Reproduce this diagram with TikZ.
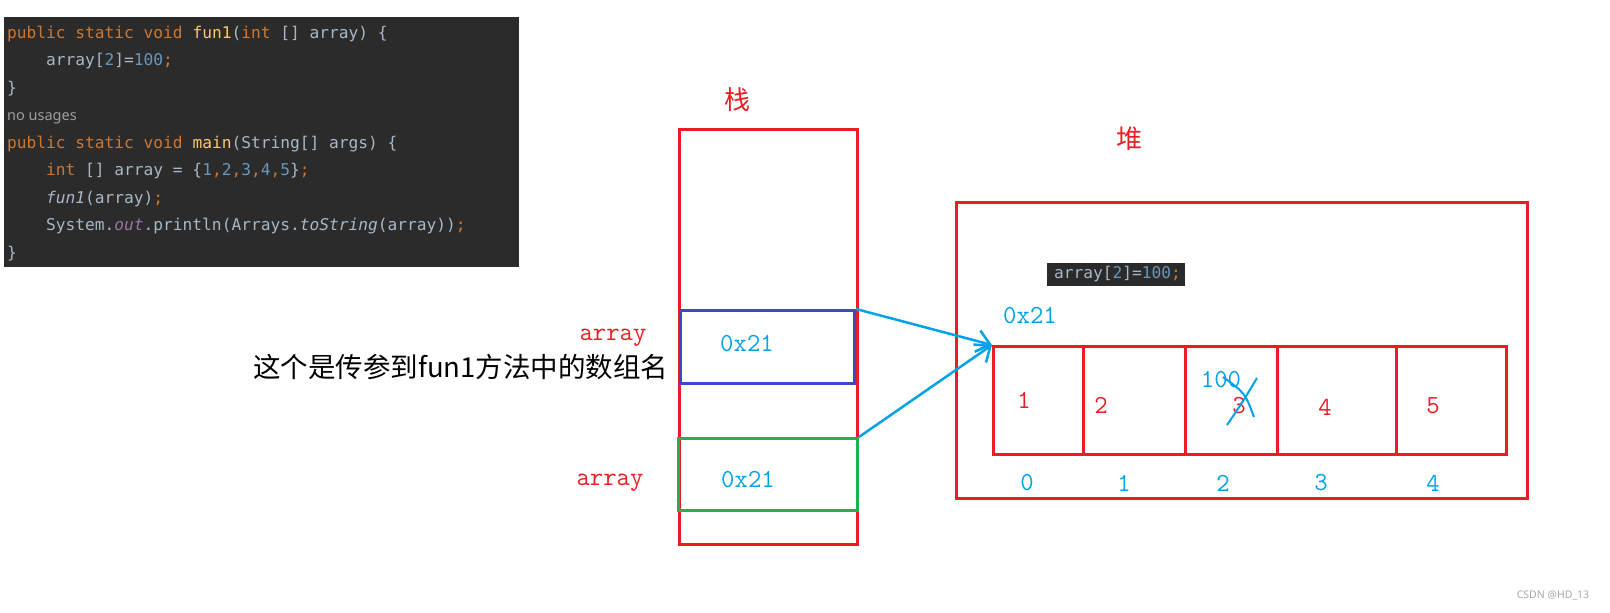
\documentclass[tikz,border=0pt]{standalone}
\usepackage{fontspec}
\usepackage{tikz}
\usetikzlibrary{arrows.meta}
\newfontfamily\cjk{Noto Sans CJK SC}
\newfontfamily\codefont{DejaVu Sans Mono}
\newfontfamily\uifont{Noto Sans}
\definecolor{paintred}{HTML}{ED1C24}
\definecolor{paintblue}{HTML}{00A2E8}
\definecolor{paintindigo}{HTML}{3F48CC}
\definecolor{paintgreen}{HTML}{22B14C}
\definecolor{codebg}{HTML}{2B2B2B}
\definecolor{codetxt}{HTML}{A9B7C6}
\definecolor{codekw}{HTML}{CC7832}
\definecolor{codefn}{HTML}{FFC66D}
\definecolor{codenum}{HTML}{6897BB}
\definecolor{codeout}{HTML}{9876AA}
\newcommand{\kw}[1]{\textcolor{codekw}{#1}}
\newcommand{\fn}[1]{\textcolor{codefn}{#1}}
\newcommand{\nm}[1]{\textcolor{codenum}{#1}}

\begin{document}
\begin{tikzpicture}[x=1pt, y=-1pt,
	redbox/.style={draw=paintred, line width=3pt, inner sep=0pt, anchor=north west},
	redtxt/.style={text=paintred, font=\ttfamily\fontsize{26}{26}\selectfont},
	bluetxt/.style={text=paintblue, font=\ttfamily\fontsize{26}{26}\selectfont},
	cjktxt/.style={font=\cjk\fontsize{26}{26}\selectfont},
	code/.style={text=codetxt, font=\codefont\fontsize{16.2}{16.2}\selectfont, anchor=base west, inner sep=0pt},
	ptr/.style={draw=paintblue, line width=2.5pt, -{Straight Barb[length=13pt,width=22pt]}}]
	\useasboundingbox (0,0) rectangle (1610,613);

	\node[fill=codebg, minimum width=515pt, minimum height=250pt, inner sep=0pt, anchor=north west] (code) at (4,17) {};
	\node[code] (l1) at (7,38) {\kw{public static void} \fn{fun1}(\kw{int} [] array) \{};
	\node[code] (l2) at (46,65.5) {array[\nm{2}]=\nm{100}\kw{;}};
	\node[code] (l3) at (7,93) {\}};
	\node[code, text=gray!75, font=\uifont\fontsize{14.5}{14.5}\selectfont] (l4) at (7,120.5) {no usages};
	\node[code] (l5) at (7,148) {\kw{public static void} \fn{main}(String[] args) \{};
	\node[code] (l6) at (46,175.5) {\kw{int} [] array = \{\nm{1}\kw{,}\nm{2}\kw{,}\nm{3}\kw{,}\nm{4}\kw{,}\nm{5}\}\kw{;}};
	\node[code] (l7) at (46,203) {\textit{fun1}(array)\kw{;}};
	\node[code] (l8) at (46,230.5) {System.\textcolor{codeout}{\textit{out}}.println(Arrays.\textit{toString}(array))\kw{;}};
	\node[code] (l9) at (7,258) {\}};

	\node[cjktxt, text=paintred] (stacklbl) at (737,100) {栈};
	\node[redbox, minimum width=178pt, minimum height=415pt] (stack) at (678,128) {};
	\node[redbox, draw=paintindigo, minimum width=174pt, minimum height=73pt] (ref1) at (679,309) {};
	\node[redbox, draw=paintgreen, minimum width=179pt, minimum height=72pt] (ref2) at (677,437) {};
	\node[bluetxt, anchor=base] (addr1) at (747,351) {0x21};
	\node[bluetxt, anchor=base] (addr2) at (748,487) {0x21};
	\node[redtxt, anchor=base] (name1) at (613,340) {array};
	\node[redtxt, anchor=base] (name2) at (610,485) {array};
	\node[anchor=east, font=\cjk\fontsize{27.5}{28}\selectfont] (note) at (672,367) {这个是传参到fun1方法中的数组名};

	\node[cjktxt, text=paintred] (heaplbl) at (1129,139) {堆};
	\node[redbox, minimum width=571pt, minimum height=296pt] (heap) at (955,201) {};
	\node[fill=codebg, minimum width=138pt, minimum height=23pt, inner sep=0pt, anchor=north west] (snip) at (1047,263) {};
	\node[code, anchor=west] (sniptxt) at (1054,274.5) {array[\nm{2}]=\nm{100}\kw{;}};
	\node[bluetxt] (addr) at (1030,316) {0x21};
	\foreach \i/\x/\w in {0/992/90, 1/1082/102, 2/1184/92, 3/1276/119, 4/1395/110}
		\node[redbox, minimum width=\w pt, minimum height=108pt] (c\i) at (\x,345) {};
	\foreach \i/\x/\y/\v in {0/1024/400/1, 1/1101/405/2, 2/1239/406/3, 3/1325/407/4, 4/1433/406/5}
		\node[redtxt] (v\i) at (\x,\y) {\v};
	\foreach \i/\x in {0/1027, 1/1124, 2/1223, 3/1321, 4/1433}
		\node[bluetxt] (idx\i) at (\x,483) {\i};
	\node[bluetxt] (newval) at (1221,380) {100};
	\draw[paintblue, line width=2pt] (1227,425) .. controls (1242,403) .. (1257,378);
	\draw[paintblue, line width=2pt] (1223,377) .. controls (1245,393) .. (1254,417);

	\draw[ptr] (ref1.north east) -- (c0.north west);
	\draw[ptr] (ref2.north east) -- (c0.north west);

	\node[text=gray!70, font=\uifont\fontsize{10.5}{12}\selectfont] (mark) at (1553,596) {CSDN @HD\_13};
\end{tikzpicture}
\end{document}
